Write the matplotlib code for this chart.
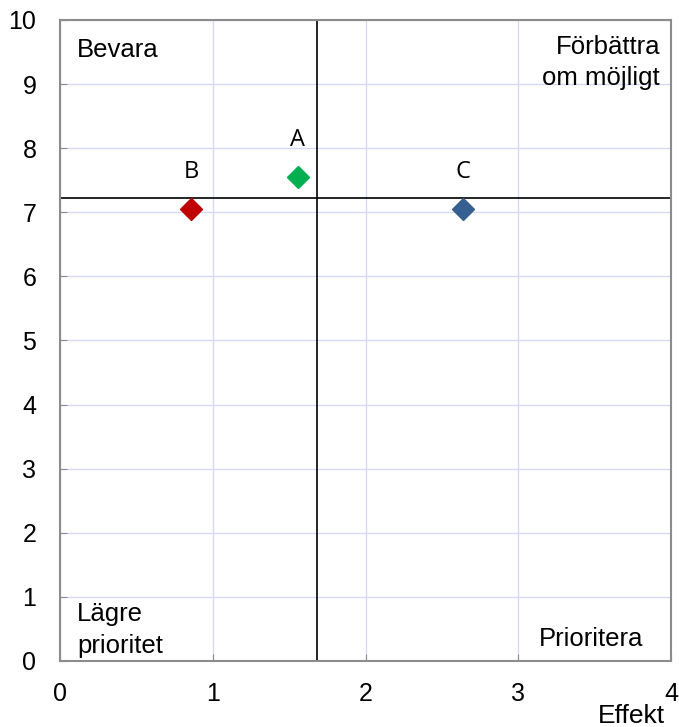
import matplotlib.pyplot as plt
import numpy as np

plt.rcParams['font.family'] = ['Liberation Sans', 'DejaVu Sans']

# Data points
names = ['A', 'B', 'C']
effekt = [1.556, 0.858, 2.638]
betyg = [7.555, 7.05, 7.05]
colors = ['#00b050', '#c00000', '#376092']

quadrants = ['Bevara', 'Förbättra\nom möjligt', 'Lägre\nprioritet', 'Prioritera']

fig = plt.figure(figsize=(6.79, 7.27), dpi=100)
ax = fig.add_axes([60 / 679, 66 / 727, 611 / 679, 641 / 727])

# Grid
ax.set_xlim(0, 4)
ax.set_ylim(0, 10)
ax.set_xticks(np.arange(0, 5, 1))
ax.set_yticks(np.arange(0, 11, 1))
ax.grid(True, color='#d8d8fa', linewidth=1.0)
ax.set_axisbelow(True)

# Quadrant lines at the means
ax.axvline(np.mean(effekt), color='black', linewidth=1.2, zorder=2)
ax.axhline(np.mean(betyg), color='black', linewidth=1.2, zorder=2)

# Points and labels
for n, x, y, c in zip(names, effekt, betyg, colors):
    ax.plot(x, y, marker='D', markersize=11, color=c, linestyle='none', zorder=3)
    ax.annotate(n, (x, y), xytext=(0, 26.5), textcoords='offset points',
                ha='center', va='center', fontsize=17, family='Open Sans')

# Quadrant text
ax.text(0.028, 0.972, quadrants[0], transform=ax.transAxes, ha='left', va='top', fontsize=18.5)
ax.text(0.982, 0.977, quadrants[1], transform=ax.transAxes, ha='right', va='top', fontsize=18.5,
        linespacing=1.4)
ax.text(0.028, 0.005, quadrants[2], transform=ax.transAxes, ha='left', va='bottom', fontsize=18.5,
        linespacing=1.4)
ax.text(0.955, 0.015, quadrants[3], transform=ax.transAxes, ha='right', va='bottom', fontsize=18.5)

# Frame and ticks
for s in ax.spines.values():
    s.set_color('#8c8c8c')
    s.set_linewidth(1.5)
ax.tick_params(direction='in', length=5, color='#8c8c8c', labelsize=18)
ax.tick_params(axis='y', pad=17)
ax.tick_params(axis='x', pad=15)

fig.text(665 / 679, (727 - 716) / 727, 'Effekt', ha='right', va='center', fontsize=19)

fig.savefig('out.png', dpi=100)
